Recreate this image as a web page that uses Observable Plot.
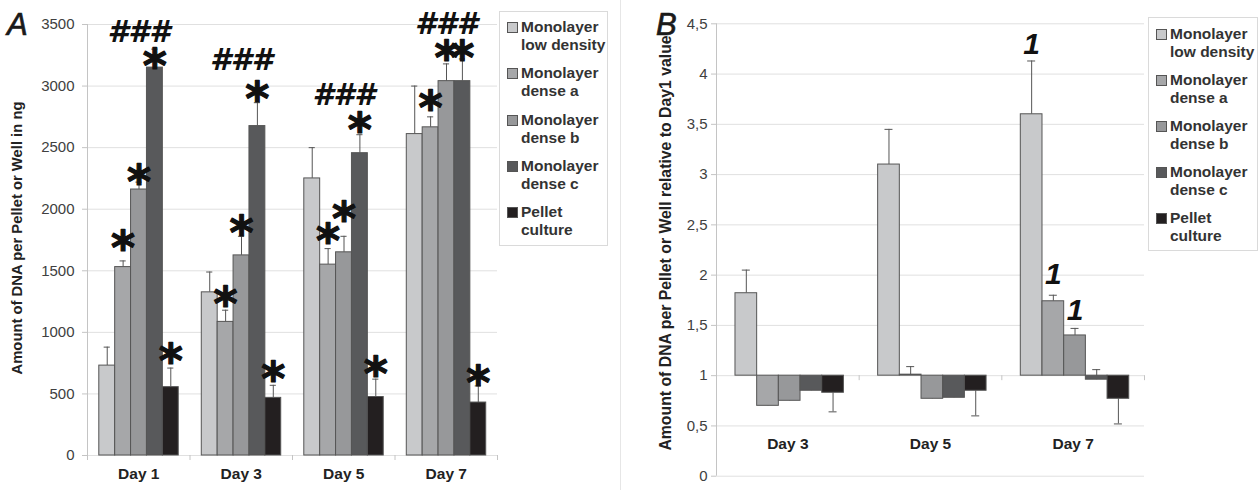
<!DOCTYPE html>
<html>
<head>
<meta charset="utf-8">
<script src="https://cdn.jsdelivr.net/npm/d3@7"></script>
<script src="https://cdn.jsdelivr.net/npm/@observablehq/plot@0.6"></script>
<style>
  body { margin: 0; background: #fff; }
  #wrap { position: relative; width: 1258px; height: 490px; overflow: hidden; background: #fff;
          font-family: "Liberation Sans", Arial, sans-serif; color: #333; }
  .panel { position: absolute; top: 0; }
  .sep { position: absolute; top: 0; width: 1px; height: 490px; background: #e6e6e6; }
  .letter { position: absolute; font-style: italic; color: #1a1a1a; background: #fff; -webkit-text-stroke: 0.7px #1a1a1a; }
  .legend { position: absolute; border: 1px solid #dadada; background: #fff; box-sizing: border-box; }
  .sw { position: absolute; width: 9px; height: 9px; border: 1px solid #555; }
  .lab { position: absolute; font-weight: bold; font-size: 15.5px; line-height: 18px; color: #333; white-space: nowrap; }
</style>
</head>
<body>
<div id="wrap"></div>
<script>
// ---------- data ----------
const series = ["Monolayer low density", "Monolayer dense a", "Monolayer dense b", "Monolayer dense c", "Pellet culture"];
const colors = ["#c8c9cb", "#a6a7a9", "#97989a", "#58595b", "#231f20"];

// Panel A: DNA in ng
const daysA = ["Day 1", "Day 3", "Day 5", "Day 7"];
const yTicksA = [0, 500, 1000, 1500, 2000, 2500, 3000, 3500];
const lowA    = [730, 1325, 2250, 2610];
const lowAErr = [880, 1490, 2500, 3000];
const aA      = [1530, 1085, 1550, 2665];
const aAErr   = [1580, 1180, 1680, 2750];
const bA      = [2160, 1625, 1650, 3040];
const bAErr   = [2220, 1780, 1780, 3180];
const cA      = [3150, 2675, 2455, 3040];
const cAErr   = [3300, 2865, 2605, 3220];
const pA      = [555, 468, 475, 430];
const pAErr   = [710, 570, 620, 565];
// significance marks, panel A
const starsA = [
  {day: "Day 1", s: 1, y: 1763}, {day: "Day 1", s: 2, y: 2299}, {day: "Day 1", s: 3, y: 3241}, {day: "Day 1", s: 4, y: 845},
  {day: "Day 3", s: 1, y: 1308}, {day: "Day 3", s: 2, y: 1889}, {day: "Day 3", s: 3, y: 2973}, {day: "Day 3", s: 4, y: 699},
  {day: "Day 5", s: 1, y: 1820}, {day: "Day 5", s: 2, y: 1998}, {day: "Day 5", s: 3, y: 2721}, {day: "Day 5", s: 4, y: 739},
  {day: "Day 7", s: 1, y: 2904}, {day: "Day 7", s: 2, y: 3306}, {day: "Day 7", s: 3, y: 3306}, {day: "Day 7", s: 4, y: 670}
];
const hashA = [
  {day: "Day 1", y: 3444}, {day: "Day 3", y: 3217}, {day: "Day 5", y: 2933}, {day: "Day 7", y: 3509}
];

// Panel B: relative to Day 1
const daysB = ["Day 3", "Day 5", "Day 7"];
const yTicksB = [0, 0.5, 1, 1.5, 2, 2.5, 3, 3.5, 4, 4.5];
const lowB    = [1.82, 3.10, 3.60];
const lowBErr = [2.05, 3.45, 4.13];
const aB      = [0.70, 1.01, 1.74];
const aBErr   = [0.77, 1.09, 1.80];
const bB      = [0.75, 0.77, 1.40];
const bBErr   = [0.83, 0.82, 1.47];
const cB      = [0.85, 0.78, 0.96];
const cBErr   = [0.94, 0.82, 1.06];
const pB      = [0.83, 0.85, 0.77];
const pBErr   = [0.64, 0.60, 0.52];
const onesB = [
  {day: "Day 7", s: 0, y: 4.30}, {day: "Day 7", s: 1, y: 2.01}, {day: "Day 7", s: 2, y: 1.65}
];

// ---------- layout helpers ----------
function buildRows(days, vals, errs, off, bw) {
  const rows = [];
  days.forEach((day, di) => {
    series.forEach((s, k) => {
      const x1 = di + off + k * bw;
      rows.push({day, series: s, value: vals[k][di], err: errs[k][di], x1, x2: x1 + bw, xc: x1 + bw / 2});
    });
  });
  return rows;
}
const offA = 0.115, bwA = 0.155;
const offB = 0.133, bwB = 0.152;
const rowsA = buildRows(daysA, [lowA, aA, bA, cA, pA], [lowAErr, aAErr, bAErr, cAErr, pAErr], offA, bwA);
const rowsB = buildRows(daysB, [lowB, aB, bB, cB, pB], [lowBErr, aBErr, bBErr, cBErr, pBErr], offB, bwB);
const barCenter = (days, day, s, off, bw) => days.indexOf(day) + off + s * bw + bw / 2;

const grid = "#e0e0e0", axisC = "#c4c4c4", edge = "#555", errC = "#555";
const fontStyle = {fontFamily: "'Liberation Sans', Arial, sans-serif", fontSize: "15px", color: "#404040", background: "transparent"};
const colorScale = {domain: series, range: colors};

// ---------- Panel A ----------
const plotA = Plot.plot({
  width: 620, height: 490,
  marginLeft: 87, marginRight: 123, marginTop: 24, marginBottom: 35,
  x: {domain: [0, 4], axis: null},
  y: {domain: [0, 3500], axis: null},
  color: colorScale,
  style: fontStyle,
  marks: [
    Plot.gridY(yTicksA, {stroke: grid, strokeOpacity: 1}),
    Plot.ruleX([0], {stroke: axisC}),
    Plot.axisY({ticks: yTicksA, tickSize: 5, tickPadding: 8, tickFormat: d => String(d), stroke: axisC, fill: "#404040", fontSize: 15}),
    Plot.axisX({ticks: [0, 1, 2, 3, 4], tickSize: 5, tickFormat: () => "", stroke: axisC}),
    Plot.text(daysA, {x: (d, i) => i + 0.5, frameAnchor: "bottom", dy: 23, fontWeight: "bold", fontSize: 15.5, fill: "#222"}),
    Plot.text(["Amount of DNA per Pellet or Well in ng"], {frameAnchor: "left", textAnchor: "middle", rotate: -90, dx: -70, dy: -2, fontWeight: "bold", fontSize: 14.8, fill: "#222"}),
    Plot.ruleX(rowsA, {x: "xc", y1: "value", y2: "err", stroke: errC}),
    Plot.ruleY(rowsA, {y: "err", x1: d => d.xc - 0.03, x2: d => d.xc + 0.03, stroke: errC}),
    Plot.rect(rowsA, {x1: "x1", x2: "x2", y1: 0, y2: "value", fill: "series", stroke: edge, strokeWidth: 1}),
    Plot.text(starsA, {x: d => barCenter(daysA, d.day, d.s, offA, bwA), y: "y", text: () => "*",
      fontFamily: "'DejaVu Sans', sans-serif", fontWeight: "bold", fontSize: 46, dy: 11, fill: "#111",
      stroke: "#111", strokeWidth: 1.2}),
    Plot.text(hashA, {x: d => daysA.indexOf(d.day) + 0.5, y: "y", text: () => "###",
      fontFamily: "'DejaVu Sans', sans-serif", fontWeight: "bold", fontStyle: "oblique", fontSize: 30, dy: 1, fill: "#111"})
  ]
});

// ---------- Panel B ----------
const fmtB = d => String(d).replace(".", ",");
const plotB = Plot.plot({
  width: 530, height: 490,
  marginLeft: 96, marginRight: 6, marginTop: 23.3, marginBottom: 14.3,
  x: {domain: [0, 3], axis: null},
  y: {domain: [0, 4.5], axis: null},
  color: colorScale,
  style: fontStyle,
  marks: [
    Plot.gridY(yTicksB, {stroke: grid, strokeOpacity: 1}),
    Plot.ruleX([0], {stroke: axisC}),
    Plot.axisY({ticks: yTicksB, tickSize: 5, tickPadding: 4, tickFormat: fmtB, stroke: axisC, fill: "#404040", fontSize: 15}),
    Plot.ruleX([0, 1, 2, 3], {y1: 1, y2: 1, insetBottom: -5, stroke: axisC}),
    Plot.text(daysB, {x: (d, i) => i + 0.5, y: 1, dy: 68, fontWeight: "bold", fontSize: 15.5, fill: "#222"}),
    Plot.text(["Amount of DNA per Pellet or Well relative to Day1 value"], {frameAnchor: "left", textAnchor: "middle", rotate: -90, dx: -51, dy: -7, fontWeight: "bold", fontSize: 15.8, fill: "#222"}),
    Plot.ruleX(rowsB, {x: "xc", y1: "value", y2: "err", stroke: errC}),
    Plot.ruleY(rowsB, {y: "err", x1: d => d.xc - 0.028, x2: d => d.xc + 0.028, stroke: errC}),
    Plot.rect(rowsB, {x1: "x1", x2: "x2", y1: 1, y2: "value", fill: "series", stroke: edge, strokeWidth: 1}),
    Plot.text(onesB, {x: d => barCenter(daysB, d.day, d.s, offB, bwB), y: "y", text: () => "1",
      fontFamily: "'Liberation Sans', Arial, sans-serif", fontWeight: "bold", fontStyle: "italic", fontSize: 30, fill: "#111"})
  ]
});

// ---------- assemble ----------
const wrap = document.getElementById("wrap");
function place(el, left) { el.classList.add("panel"); el.style.left = left + "px"; wrap.appendChild(el); }
place(plotA, 0);
place(plotB, 620);

const sep = document.createElement("div"); sep.className = "sep"; sep.style.left = "620px"; wrap.appendChild(sep);

function letter(t, left, top, w, h) {
  const d = document.createElement("div"); d.className = "letter";
  d.textContent = t;
  Object.assign(d.style, {left: left + "px", top: top + "px", width: w + "px", height: h + "px", fontSize: "31px", lineHeight: "31px"});
  wrap.appendChild(d);
}
letter("A", 7, 9, 26, 28);
letter("B", 656, 9, 24, 27);

function legend(left, top, width, height, firstCenter, step) {
  const box = document.createElement("div"); box.className = "legend";
  Object.assign(box.style, {left: left + "px", top: top + "px", width: width + "px", height: height + "px"});
  series.forEach((s, i) => {
    const c = firstCenter + i * step;
    const sw = document.createElement("div"); sw.className = "sw";
    Object.assign(sw.style, {left: "7px", top: (c - 5) + "px", background: colors[i]});
    box.appendChild(sw);
    const sp = s.indexOf(" ");
    const lab = document.createElement("div"); lab.className = "lab";
    lab.innerHTML = s.slice(0, sp) + "<br>" + s.slice(sp + 1);
    Object.assign(lab.style, {left: "21px", top: (c - 9) + "px"});
    box.appendChild(lab);
  });
  wrap.appendChild(box);
}
legend(499, 11, 109, 235, 15, 46.3);
legend(1148, 17, 110, 234, 16, 46);
</script>
</body>
</html>
